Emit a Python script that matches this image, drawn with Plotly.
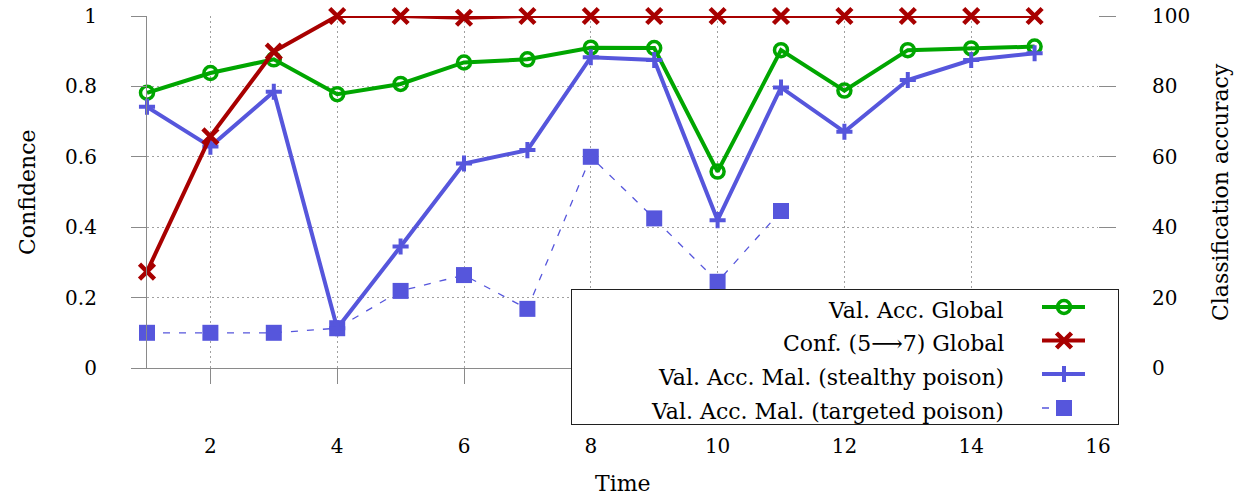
import plotly.graph_objects as go

# ---- data -------------------------------------------------------------
time = list(range(1, 16))
val_acc_global = [78.2, 83.8, 87.7, 77.8, 80.7, 86.8, 87.7, 91.0, 90.9, 55.8,
                  90.3, 78.8, 90.3, 90.8, 91.3]
conf_global = [0.274, 0.658, 0.899, 1.0, 1.0, 0.995, 1.0, 1.0, 1.0, 1.0,
               1.0, 1.0, 1.0, 1.0, 1.0]
val_acc_stealthy = [74.2, 62.9, 78.5, 11.3, 34.5, 58.1, 61.9, 88.3, 87.5, 42.0,
                    79.7, 67.1, 81.8, 87.5, 89.4]
time_targeted = list(range(1, 12))
val_acc_targeted = [10.0, 10.0, 10.0, 11.3, 21.9, 26.4, 16.8, 60.0, 42.5, 24.5, 44.6]

x_ticks = [2, 4, 6, 8, 10, 12, 14, 16]
conf_ticks = [0, 0.2, 0.4, 0.6, 0.8, 1]
conf_tick_text = ["0", "0.2", "0.4", "0.6", "0.8", "1"]
acc_ticks = [0, 20, 40, 60, 80, 100]

legend_names = ["Val. Acc. Global", "Conf. (5\u27f67) Global",
                "Val. Acc. Mal. (stealthy poison)", "Val. Acc. Mal. (targeted poison)"]

# ---- styling ------------------------------------------------------------
W, H = 1240, 495
FONT = "DejaVu Serif"
FS_TICK = 20
FS_TEXT = 22
GREEN = "#00a600"
RED = "#a80000"
BLUE = "#5656dc"
AXIS_GRAY = "#8a8a8a"
GRID_GRAY = "#a0a0a0"
GRID_DASH = "2px,3px"

# plot area in pixels
PL, PR, PT, PB = 147, 1098, 16, 368
# legend box in pixels
LL, LR, LT, LB = 572, 1118, 290, 424


def px_x(p):
    return p / W


def px_y(p):
    return 1 - p / H


green_style = dict(line=dict(color=GREEN, width=4),
                   marker=dict(symbol="circle-open", size=13, color=GREEN, opacity=1,
                               line=dict(color=GREEN, width=3.5)))
red_style = dict(line=dict(color=RED, width=4),
                 marker=dict(symbol="x-thin", size=15, color=RED, opacity=1,
                             line=dict(color=RED, width=4.5)))
stealthy_style = dict(line=dict(color=BLUE, width=4),
                      marker=dict(symbol="cross-thin", size=11.5, color=BLUE, opacity=1,
                                  line=dict(color=BLUE, width=4)))
targeted_style = dict(line=dict(color=BLUE, width=1.3, dash="7px,9px"),
                      marker=dict(symbol="square", size=16, color=BLUE, opacity=1,
                                  line=dict(width=0)))

fig = go.Figure()

# accuracy series on the right-hand axis
fig.add_trace(go.Scatter(x=time_targeted, y=val_acc_targeted, xaxis="x", yaxis="y",
                         mode="lines+markers", name=legend_names[3], cliponaxis=False,
                         showlegend=False, **targeted_style))
fig.add_trace(go.Scatter(x=time, y=val_acc_global, xaxis="x", yaxis="y",
                         mode="lines+markers", name=legend_names[0], cliponaxis=False,
                         showlegend=False, **green_style))
fig.add_trace(go.Scatter(x=time, y=val_acc_stealthy, xaxis="x", yaxis="y",
                         mode="lines+markers", name=legend_names[2], cliponaxis=False,
                         showlegend=False, **stealthy_style))
# confidence on the left-hand axis
fig.add_trace(go.Scatter(x=time, y=conf_global, xaxis="x", yaxis="y2",
                         mode="lines+markers", name=legend_names[1], cliponaxis=False,
                         showlegend=False, **red_style))

# ---- hand-built legend (text on the left, sample on the right) -----------
row_y = [117, 83.5, 50, 16]           # row centres, pixels above the box bottom
sample_l, sample_c, sample_r = 470, 492, 513
text_right = 434
styles = [green_style, red_style, stealthy_style, targeted_style]
for name, ry, st in zip(legend_names, row_y, styles):
    if st is targeted_style:
        xs = [sample_l, sample_c]
        sizes = [0, st["marker"]["size"]]
    else:
        xs = [sample_l, sample_c, sample_r]
        sizes = [0, st["marker"]["size"], 0]
    mk = dict(st["marker"])
    mk["size"] = sizes
    fig.add_trace(go.Scatter(x=xs, y=[ry] * len(xs), xaxis="x3", yaxis="y3",
                             mode="lines+markers", line=st["line"], marker=mk,
                             showlegend=False, hoverinfo="skip"))
    fig.add_annotation(x=text_right, y=ry, xref="x3", yref="y3", text=name,
                       showarrow=False, xanchor="right", yanchor="middle", yshift=-3,
                       font=dict(family=FONT, size=FS_TEXT, color="black"))

# ---- axis titles ---------------------------------------------------------
title_font = dict(family=FONT, size=FS_TEXT, color="black")
fig.add_annotation(x=px_x(27), y=px_y((PT + PB) / 2), xref="paper", yref="paper",
                   text="Confidence", textangle=-90, showarrow=False,
                   xanchor="center", yanchor="middle", font=title_font)
fig.add_annotation(x=px_x(1220), y=px_y((PT + PB) / 2), xref="paper", yref="paper",
                   text="Classification accuracy", textangle=-90, showarrow=False,
                   xanchor="center", yanchor="middle", font=title_font)
fig.add_annotation(x=px_x((PL + PR) / 2), y=px_y(483), xref="paper", yref="paper",
                   text="Time", showarrow=False, xanchor="center", yanchor="middle",
                   font=title_font)

tick_font = dict(family=FONT, size=FS_TICK, color="black")

fig.update_layout(
    width=W, height=H, autosize=False,
    margin=dict(l=0, r=0, t=0, b=0, pad=0, autoexpand=False),
    paper_bgcolor="white", plot_bgcolor="white",
    showlegend=False,
    xaxis=dict(domain=[px_x(PL), px_x(PR)], range=[1, 16], anchor="y",
               tickmode="array", tickvals=x_ticks, ticks="outside", ticklen=15,
               tickwidth=1.2, tickcolor=AXIS_GRAY, showline=True,
               linecolor=AXIS_GRAY, linewidth=1.2, showgrid=True,
               gridcolor=GRID_GRAY, griddash=GRID_DASH, gridwidth=1,
               zeroline=False, tickfont=tick_font, ticklabelstandoff=45,
               fixedrange=True),
    yaxis=dict(domain=[px_y(PB), px_y(PT)], range=[0, 100], side="right",
               anchor="x", tickmode="array", tickvals=acc_ticks,
               ticks="outside", ticklen=17, tickwidth=1.2, tickcolor=AXIS_GRAY,
               showline=False, showgrid=True, gridcolor=GRID_GRAY,
               griddash=GRID_DASH, gridwidth=1, zeroline=False,
               tickfont=tick_font, ticklabelstandoff=32, fixedrange=True),
    yaxis2=dict(overlaying="y", range=[0, 1], side="left", anchor="x",
                tickmode="array", tickvals=conf_ticks, ticktext=conf_tick_text,
                ticks="outside", ticklen=15, tickwidth=1.2, tickcolor=AXIS_GRAY,
                showline=True, linecolor=AXIS_GRAY, linewidth=1.2,
                showgrid=False, zeroline=False, tickfont=tick_font,
                ticklabelstandoff=30, fixedrange=True),
    xaxis3=dict(domain=[px_x(LL), px_x(LR)], range=[0, LR - LL], anchor="y3",
                showline=True, mirror=True, linecolor="#202020", linewidth=1.3,
                showticklabels=False, ticks="", showgrid=False, zeroline=False,
                fixedrange=True),
    yaxis3=dict(domain=[px_y(LB), px_y(LT)], range=[0, LB - LT], anchor="x3",
                showline=True, mirror=True, linecolor="#202020", linewidth=1.3,
                showticklabels=False, ticks="", showgrid=False, zeroline=False,
                fixedrange=True),
)

fig.write_html("out.html")
